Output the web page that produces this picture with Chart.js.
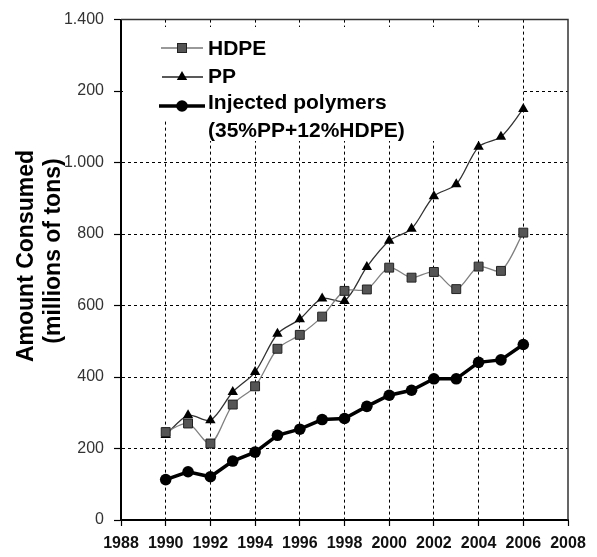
<!DOCTYPE html>
<html>
<head>
<meta charset="utf-8">
<script src="https://cdn.jsdelivr.net/npm/chart.js@4.4.1/dist/chart.umd.min.js"></script>
<style>
html,body{margin:0;padding:0;background:#fff;}
canvas{display:block;}
</style>
</head>
<body>
<canvas id="c" width="597" height="557"></canvas>
<script>
// ---- data ----
const years = [1990,1991,1992,1993,1994,1995,1996,1997,1998,1999,2000,2001,2002,2003,2004,2005,2006];
const hdpe = [246,270,214,323,374,479,518,569,641,645,706,678,694,646,709,697,804];
const pp = [238,293,279,358,414,521,562,620,613,708,781,815,906,939,1044,1072,1150];
const injected = [113,135,121,165,190,237,254,281,284,318,349,363,395,395,441,448,491];
const yTickLabels = ['0','200','400','600','800','1.000','200','1.400'];
const seriesNames = ['HDPE','PP','Injected polymers','(35%PP+12%HDPE)'];
const yTitleLines = ['Amount Consumed','(millions of tons)'];

const pts = arr => arr.map((v,i)=>({x:years[i], y:v}));
const FONT = '"Liberation Sans", Arial, sans-serif';

const legendPlugin = {
  id:'legendBox',
  beforeDatasetsDraw(chart){
    const ctx = chart.ctx;
    ctx.save();
    ctx.fillStyle = '#fff';
    ctx.beginPath();
    ctx.moveTo(123,27); ctx.lineTo(521,27); ctx.lineTo(521,141);
    ctx.lineTo(200,141); ctx.lineTo(200,121); ctx.lineTo(123,121); ctx.closePath();
    ctx.fill();
    // HDPE
    ctx.strokeStyle='#777'; ctx.lineWidth=1.3;
    ctx.beginPath(); ctx.moveTo(161,48); ctx.lineTo(203,48); ctx.stroke();
    ctx.fillStyle='#555'; ctx.strokeStyle='#222'; ctx.lineWidth=1;
    ctx.fillRect(177.5,43.5,9,9); ctx.strokeRect(177.5,43.5,9,9);
    // PP
    ctx.strokeStyle='#222'; ctx.lineWidth=1.3;
    ctx.beginPath(); ctx.moveTo(162,77); ctx.lineTo(203,77); ctx.stroke();
    ctx.fillStyle='#000';
    ctx.beginPath(); ctx.moveTo(182,71); ctx.lineTo(187.2,80); ctx.lineTo(176.8,80); ctx.closePath(); ctx.fill();
    // Injected
    ctx.strokeStyle='#000'; ctx.lineWidth=3.5;
    ctx.beginPath(); ctx.moveTo(159,106); ctx.lineTo(205,106); ctx.stroke();
    ctx.beginPath(); ctx.arc(182,106,5.8,0,Math.PI*2); ctx.fill();
    // text
    ctx.fillStyle='#000';
    ctx.font = 'bold 21px ' + FONT;
    ctx.textAlign='left'; ctx.textBaseline='alphabetic';
    ctx.fillText(seriesNames[0],208,55);
    ctx.fillText(seriesNames[1],208,83);
    ctx.fillText(seriesNames[2],208,109);
    ctx.fillText(seriesNames[3],208,137);
    ctx.restore();
  }
};

const framePlugin = {
  id:'frame',
  afterDraw(chart){
    const {ctx, chartArea:a} = chart;
    ctx.save();
    ctx.strokeStyle='#333'; ctx.lineWidth=1.5;
    ctx.beginPath();
    ctx.moveTo(a.left,a.top); ctx.lineTo(a.right,a.top); ctx.lineTo(a.right,a.bottom);
    ctx.stroke();
    // y title
    ctx.fillStyle='#000';
    ctx.font='bold 23px ' + FONT;
    ctx.textAlign='center'; ctx.textBaseline='alphabetic';
    ctx.translate(33,256); ctx.rotate(-Math.PI/2);
    ctx.fillText(yTitleLines[0],0,0);
    ctx.restore();
    ctx.save();
    ctx.fillStyle='#000';
    ctx.font='bold 23px ' + FONT;
    ctx.textAlign='center'; ctx.textBaseline='alphabetic';
    ctx.translate(60,251); ctx.rotate(-Math.PI/2);
    ctx.fillText(yTitleLines[1],0,0);
    ctx.restore();
  }
};

new Chart(document.getElementById('c'), {
  type:'line',
  data:{
    datasets:[
      {label:'Injected', data:pts(injected), borderColor:'#000', borderWidth:3.5, tension:0,
        pointStyle:'circle', pointRadius:5.8, pointBackgroundColor:'#000', pointBorderColor:'#000', pointBorderWidth:0},
      {label:'HDPE', data:pts(hdpe), borderColor:'#808080', borderWidth:1.3, tension:0.3,
        pointStyle:'rect', pointRadius:6.3, pointBackgroundColor:'#555', pointBorderColor:'#222', pointBorderWidth:1},
      {label:'PP', data:pts(pp), borderColor:'#333', borderWidth:1.3, tension:0.3,
        pointStyle:'triangle', pointRadius:6, pointBackgroundColor:'#000', pointBorderColor:'#000', pointBorderWidth:0}
    ]
  },
  options:{
    responsive:false, animation:false, devicePixelRatio:1,
    layout:{padding:{top:18,right:29,left:0,bottom:0}},
    plugins:{legend:{display:false}, tooltip:{enabled:false}},
    scales:{
      x:{type:'linear', min:1988, max:2008,
        afterFit(s){ s.height = 37; },
        ticks:{stepSize:2, autoSkip:false, maxRotation:0, padding:8, color:'#111',
          font:{family:FONT, size:16, weight:'bold'}, callback:v=>String(v)},
        grid:{color:c=> (c.tick && (c.tick.value===1988||c.tick.value===2008)) ? 'rgba(0,0,0,0)' : '#000',
          lineWidth:1, tickLength:6, tickColor:'#000', tickWidth:1.2},
        border:{display:true, color:'#000', width:2, dash:[3,3]}
      },
      y:{min:0, max:1400,
        afterFit(s){ s.width = 121; },
        ticks:{stepSize:200, padding:10, color:'#333',
          font:{family:FONT, size:16}, callback:(v)=> yTickLabels[Math.round(v/200)]},
        grid:{color:c=> (c.tick && (c.tick.value===0||c.tick.value===1400)) ? 'rgba(0,0,0,0)' : '#000',
          lineWidth:1, tickLength:7, tickColor:'#000', tickWidth:1.2},
        border:{display:true, color:'#000', width:2, dash:[3,3]}
      }
    }
  },
  plugins:[legendPlugin, framePlugin]
});
</script>
</body>
</html>
